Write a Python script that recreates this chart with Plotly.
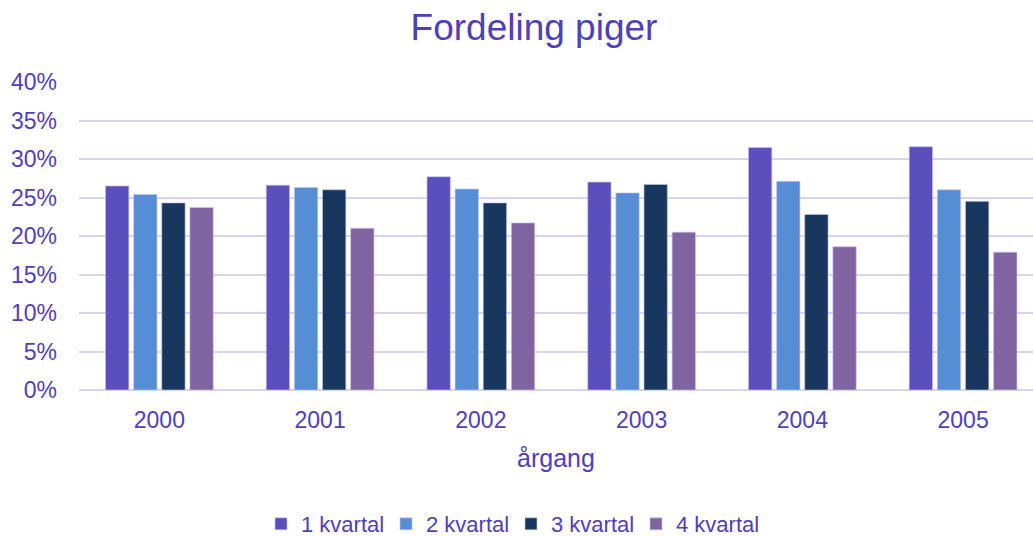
import plotly.graph_objects as go

years = ["2000", "2001", "2002", "2003", "2004", "2005"]
kvartal1 = [26.5, 26.6, 27.7, 27.0, 31.5, 31.6]
kvartal2 = [25.4, 26.3, 26.1, 25.6, 27.1, 26.0]
kvartal3 = [24.3, 26.0, 24.3, 26.7, 22.8, 24.5]
kvartal4 = [23.7, 21.0, 21.7, 20.5, 18.6, 17.9]
series_names = ["1 kvartal", "2 kvartal", "3 kvartal", "4 kvartal"]
colors = ["#5B4FBE", "#558ED5", "#17375E", "#8064A2"]

text_color = "#5040B8"
grid_color = "#D9D3F0"

fig = go.Figure()
for name, vals, col in zip(series_names, [kvartal1, kvartal2, kvartal3, kvartal4], colors):
    fig.add_trace(go.Bar(
        x=years, y=vals, name=name,
        marker=dict(color=col, line=dict(color="rgba(200,195,240,0.8)", width=0.8)),
    ))

fig.update_layout(
    width=1033, height=536,
    margin=dict(l=79, r=0, t=82, b=146, autoexpand=False),
    paper_bgcolor="white", plot_bgcolor="white",
    font=dict(family="Liberation Sans, Arial, sans-serif", size=23, color=text_color),
    barmode="group", bargap=0.3, bargroupgap=0.17,
    title=dict(text="Fordeling piger", x=534/1033, xanchor="center",
               y=1 - 27/536, yanchor="middle", yref="container",
               font=dict(size=37, color=text_color)),
    legend=dict(orientation="h", xref="container", x=261/1033, xanchor="left",
                yref="container", y=1 - 524/536, yanchor="middle",
                font=dict(size=22, color=text_color), itemwidth=30,
                entrywidth=80, traceorder="normal"),
    showlegend=True,
)
fig.update_xaxes(
    range=[-0.5, 5.435], showgrid=False, showline=False, ticks="",
    tickfont=dict(size=23, color=text_color), automargin=False,
    ticklabelstandoff=14,
    title=dict(text="årgang", font=dict(size=25, color=text_color), standoff=17),
)
fig.update_yaxes(
    range=[0, 40], dtick=5, ticksuffix="%", showgrid=True, gridcolor=grid_color,
    gridwidth=1.5, zeroline=True, zerolinecolor=grid_color, zerolinewidth=1.5,
    tickfont=dict(size=23, color=text_color), ticklabelstandoff=21, automargin=False,
)

fig.write_html("out.html", config={"displayModeBar": False},
               post_script="document.body.style.margin='0';document.body.style.padding='0';")
